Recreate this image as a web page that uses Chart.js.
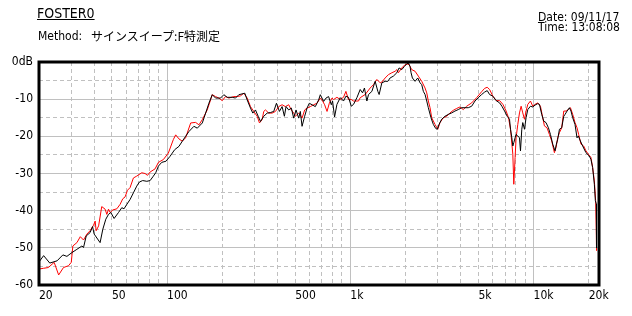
<!DOCTYPE html>
<html>
<head>
<meta charset="utf-8">
<script src="https://cdn.jsdelivr.net/npm/chart.js@4.4.1/dist/chart.umd.min.js"></script>
<style>
  html, body { margin: 0; padding: 0; background: #fff; }
  #wrap { position: relative; width: 632px; height: 316px; overflow: hidden; }
  #wrap canvas { position: absolute; left: 0; top: 0; }
  .txt {
    position: absolute; white-space: pre; color: #000;
    font-family: "Liberation Sans Narrow", "DejaVu Sans Condensed", "Noto Sans CJK JP", sans-serif;
    font-size: 12px; line-height: 12px;
  }
</style>
</head>
<body>
<div id="wrap">
  <canvas id="graf" width="632" height="316"></canvas>
  <div class="txt" style="left:37px;top:6px;font-size:14px;line-height:14px;text-decoration:underline">FOSTER0</div>
  <div class="txt" style="left:38px;top:30px">Method:</div>
  <div class="txt" style="left:91px;top:30px;font-family:'Noto Sans CJK JP',sans-serif">サインスイープ:F特測定</div>
  <div class="txt" style="left:538px;top:11px">Date: 09/11/17</div>
  <div class="txt" style="left:538px;top:21px">Time: 13:08:08</div>
</div>
<script>
// tick positions
const etiketHz = [20, 50, 100, 500, 1000, 5000, 10000, 20000];
const anaHz = [100, 1000, 10000];
const araHz = [30, 40, 50, 60, 70, 80, 90, 200, 300, 400, 500, 600, 700, 800, 900,
  2000, 3000, 4000, 5000, 6000, 7000, 8000, 9000, 20000];
const dbTicks = [-60, -50, -40, -30, -20, -10, 0];
const dbAra = [-55, -45, -35, -25, -15, -5];

// red curve
const kirmiziHz = [20, 21.2, 22.5, 24.2, 25.6, 27.2, 29, 30, 30.6, 32.2, 33.6, 35, 36.5, 38, 39.7, 40.5, 41, 42.3, 44, 45.9,
  46.9, 47.9, 48.9, 50.6, 53.2, 55.4, 57.3, 59, 60.8, 62.8, 65.5, 68.3, 72.7, 75.8, 78.2, 80.8, 86, 89.7, 95.4, 101.6,
  108.1, 111.4, 116.1, 121.1, 126.2, 134.5, 143.1, 149.2, 155.7, 165.6, 172.7, 176.4, 183.9, 191.6, 200, 208.4, 217.4, 231.4, 241.4, 251.6,
  262.3, 273.6, 285.2, 297.3, 310.2, 319.3, 330.2, 336.9, 344.2, 358.7, 374.3, 390.2, 406.6, 424.3, 442.2, 460.9, 476.7, 490.7, 501.2, 522.4,
  545.2, 563.3, 580.4, 604.9, 630.5, 657.6, 685.8, 700.4, 724, 746.3, 767.9, 794.3, 810, 845, 881, 918, 946, 977, 1012, 1041,
  1108, 1132, 1205, 1283, 1337, 1396, 1455, 1486, 1549, 1614, 1684, 1755, 1793, 1829, 1908, 1990, 2033, 2091, 2163, 2256,
  2350, 2453, 2557, 2612, 2665, 2723, 2780, 2899, 2999, 3086, 3216, 3357, 3498, 3646, 3803, 3966, 4134, 4314, 4593, 4888,
  5206, 5404, 5584, 5754, 5998, 6254, 6523, 6800, 7083, 7300, 7484, 7703, 7799, 7929, 8027, 8200, 8376, 8550, 8730, 8920,
  9100, 9297, 9615, 9896, 10186, 10540, 10900, 11220, 11460, 11840, 12200, 12560, 12990, 13260, 13540, 13840, 14240, 14610, 15040, 15500,
  15890, 16350, 16830, 17260, 17620, 18140, 18760, 19310, 19900, 20560, 21000, 21460, 21810, 22000, 22050];
const kirmiziDb = [-55.7, -55.5, -55.3, -53.9, -57.3, -55.3, -54.8, -53.9, -49.5, -48.6, -47, -47.9, -46.3, -45.4, -43.9, -42.8, -45.4, -44.1, -38.9, -39.6,
  -41, -39.6, -40.5, -39.8, -39.5, -38.3, -36.8, -36.3, -34.5, -33.8, -31.2, -30.7, -29.8, -30, -30.5, -29.6, -28.75, -27, -26.25, -24.5,
  -20.9, -19.6, -20.7, -21.3, -20.4, -16.4, -16.25, -16.9, -15.5, -12.9, -10.2, -8.8, -9.3, -9.7, -10.4, -9.3, -9.7, -9.3, -9.3, -9.1,
  -8.4, -9.7, -12, -13.3, -14.6, -16.4, -15.5, -13.3, -12.9, -13.75, -13.75, -13.3, -12, -11.5, -12, -11.5, -12.9, -13.75, -14.6, -13.75,
  -15.1, -12.9, -12.4, -12, -11.5, -11.1, -9.7, -10.2, -11.5, -13.3, -11.1, -9.7, -10.1, -9.5, -10.1, -9.5, -7.9, -10.1, -10.1, -10.5,
  -10.5, -9.6, -8.75, -7, -6.1, -4.7, -5.6, -5.4, -4.3, -3.4, -2.9, -2.5, -2.05, -2.9, -1.6, -0.7, -0.5, -0.7, -2.05, -2.5,
  -3.8, -5.2, -7, -8.3, -10.5, -12.3, -15, -16.8, -18.1, -16.3, -15, -14.6, -13.7, -13, -12.5, -12.1, -12.8, -11.9, -11, -9.6,
  -8, -7.1, -6.8, -7.4, -9.2, -10.4, -10.4, -11.4, -13.2, -15, -18.1, -24.8, -32.9, -25.7, -20.4, -16.8, -13.7, -11.9, -13.7, -15.4,
  -13.2, -11.4, -10.5, -11.9, -11.4, -11, -11.9, -15, -17.2, -17.7, -19.5, -21.25, -24.4, -23, -20.4, -19, -17.7, -13.2, -13.2, -12.8,
  -12.3, -14.1, -16.3, -17.7, -19.5, -22.1, -22.6, -23.9, -24.8, -25.7, -28.4, -32, -37.3, -46.7, -50.7];

// black curve
const siyahHz = [20, 21.2, 22.9, 25.1, 27, 28.4, 30, 32.2, 34.3, 35, 36.2, 38, 39.2, 40, 43.1, 44.6, 46.3, 47.9, 49.3, 51.4,
  54.3, 56.6, 58.2, 60.3, 62.8, 65.5, 68.3, 70.6, 73.6, 77.5, 80.8, 83.6, 86.7, 89.7, 93.5, 98.6, 103.7, 110, 116.1, 121.1,
  126.2, 131.6, 140.1, 146.2, 155.7, 162.3, 169.1, 176.4, 183.9, 195.8, 204, 212.9, 226.7, 236.3, 246.3, 265.6, 273.6, 285.2, 293.6, 303.6,
  314.1, 323.3, 336.9, 351.6, 366.4, 381.9, 395.2, 410.2, 424.3, 436.6, 445.9, 460.9, 476.7, 490.7, 505.5, 522.4, 533.4, 545.2, 563.3, 580.4,
  597.1, 618, 644.1, 671.4, 685.8, 714.9, 736.7, 760.9, 787.5, 800, 820.3, 845, 881, 918, 946, 977, 1012, 1041, 1086, 1132,
  1166, 1194, 1231, 1257, 1311, 1366, 1413, 1436, 1486, 1549, 1602, 1648, 1718, 1793, 1845, 1908, 1973, 2033, 2075, 2118,
  2145, 2181, 2256, 2333, 2401, 2453, 2503, 2557, 2612, 2665, 2755, 2838, 2925, 2984, 3048, 3152, 3286, 3423, 3573, 3724,
  3882, 4052, 4222, 4401, 4593, 4788, 4990, 5206, 5404, 5584, 5754, 5998, 6254, 6523, 6716, 6945, 7177, 7390, 7484, 7607,
  7703, 7799, 7929, 8027, 8200, 8376, 8484, 8623, 8730, 8920, 9100, 9297, 9615, 9896, 10186, 10540, 10765, 11080, 11360, 11690,
  12050, 12360, 12720, 13090, 13320, 13540, 13840, 14240, 14610, 14850, 15230, 15690, 16000, 16350, 16830, 17260, 17550, 18000, 18530, 19310,
  20150, 20560, 21000, 21460, 21730, 22000, 22050];
const siyahDb = [-53.8, -52.1, -54.1, -53.5, -51.9, -52.3, -51.4, -50.4, -49.5, -49.9, -46.8, -45.9, -44.3, -46.3, -48.6, -45, -42.3, -41, -40.5, -42.1,
  -40.5, -39.2, -39.5, -38.3, -37, -35.2, -33.4, -32.3, -31.9, -32.1, -31.9, -30.9, -29.8, -28, -27, -26.7, -25.4, -23.6, -22.7, -21.3,
  -20, -18.7, -17.3, -17.8, -16.4, -13.75, -11.1, -8.8, -9.7, -9.7, -8.8, -9.5, -9.5, -9.7, -8.8, -8.4, -10.2, -12.4, -13.75, -12.9,
  -14.6, -16, -14.6, -13.75, -13.6, -13.3, -11.1, -13.3, -12, -14.6, -12, -12.9, -12.4, -15.1, -12.9, -15.1, -13.3, -17.3, -14.6, -12.4,
  -11.1, -11.5, -12, -10.2, -8.8, -10.6, -9.7, -9.3, -11.5, -10.5, -14.8, -11.4, -9.6, -10.5, -9.2, -9.5, -11.9, -11.4, -9.6, -7.4,
  -8.3, -7, -10.5, -8.75, -7.9, -5.2, -7.9, -8.75, -5.6, -5.2, -5.2, -4.3, -3.8, -2.9, -1.6, -2.05, -1.2, -0.5, -0.27, -1.2,
  -2.9, -4.3, -5.2, -4.3, -5.6, -6.1, -7.9, -8.75, -10.5, -12.3, -15, -16.8, -17.9, -18.1, -16.8, -15.4, -14.6, -14.1, -13.7, -13.2,
  -12.8, -12.3, -12.3, -12.3, -11.9, -10.5, -9.6, -8.75, -8.1, -7.7, -8.75, -9.2, -10.4, -11, -11.9, -13.2, -14.6, -15.4, -18.1, -20.4,
  -22.6, -21.7, -20.4, -19.5, -19.9, -20.4, -23.9, -18.1, -16.3, -18.1, -15, -12.8, -11.9, -12.1, -11.6, -11.2, -11.4, -14.1, -15.9, -16.3,
  -17.7, -19.5, -22.1, -23.9, -22.1, -20.8, -18.1, -17.7, -14.6, -14.1, -13.2, -12.3, -13.2, -15, -16.8, -20.4, -19.9, -21.25, -22.6, -24.4,
  -25.3, -26.2, -28.4, -32.9, -37.3, -38.2, -50];

const yazi = '"Liberation Sans Narrow", "DejaVu Sans Condensed", sans-serif';
const gri = "#c0c0c0";
const minHz = 20;
const maxHz = 22750;

function noktalar(hz, db) {
  return hz.map((f, i) => ({ x: f, y: db[i] }));
}

function sabitTick(liste) {
  return function (scale) {
    scale.ticks = liste.map(v => ({ value: v }));
  };
}

// only grid lines, no labels
function gridEkseni(tip, konum, liste, dash) {
  const eks = {
    type: tip,
    position: konum,
    afterBuildTicks: sabitTick(liste),
    ticks: { display: false },
    grid: { color: gri, lineWidth: 1, drawTicks: false },
    border: { display: false, dash: dash }
  };
  if (tip === "logarithmic") { eks.min = minHz; eks.max = maxHz; }
  else { eks.min = -60; eks.max = 0; }
  return eks;
}

// thick black frame around the plot
const cerceve = {
  id: "cerceve",
  afterDatasetsDraw(chart) {
    const a = chart.chartArea;
    const c = chart.ctx;
    c.save();
    c.strokeStyle = "#000";
    c.lineWidth = 3;
    c.strokeRect(a.left, a.top, a.right - a.left, a.bottom - a.top);
    c.restore();
  }
};

const ctx = document.getElementById("graf").getContext("2d");
new Chart(ctx, {
  type: "line",
  data: {
    datasets: [
      { label: "siyah", data: noktalar(siyahHz, siyahDb), borderColor: "#000000", borderWidth: 1, pointRadius: 0, tension: 0 },
      { label: "kirmizi", data: noktalar(kirmiziHz, kirmiziDb), borderColor: "#ff0000", borderWidth: 1, pointRadius: 0, tension: 0 }
    ]
  },
  options: {
    responsive: false,
    animation: false,
    devicePixelRatio: 1,
    layout: { padding: { left: 0, right: 33, top: 62, bottom: 0 } },
    plugins: { legend: { display: false }, tooltip: { enabled: false } },
    scales: {
      x: {
        type: "logarithmic", min: minHz, max: maxHz, position: "bottom",
        afterBuildTicks: sabitTick(etiketHz),
        afterFit: s => { s.height = 31; },
        grid: { display: false, drawTicks: false },
        border: { display: false },
        ticks: {
          align: "start", padding: 4, maxRotation: 0, autoSkip: false, color: "#000",
          font: { family: yazi, size: 12 },
          callback: v => v >= 1000 ? (v / 1000) + "k" : String(v)
        }
      },
      xAra: gridEkseni("logarithmic", "bottom", araHz, [4, 3]),
      xAna: gridEkseni("logarithmic", "bottom", anaHz, []),
      y: {
        type: "linear", min: -60, max: 0, position: "left",
        afterBuildTicks: sabitTick(dbTicks),
        afterFit: s => { s.width = 39; },
        grid: { color: gri, lineWidth: 1, drawTicks: false },
        border: { display: false },
        ticks: {
          padding: 6, color: "#000",
          font: { family: yazi, size: 12 },
          callback: v => v === 0 ? "0dB" : String(v)
        }
      },
      yAra: gridEkseni("linear", "left", dbAra, [4, 3])
    }
  },
  plugins: [cerceve]
});
</script>
</body>
</html>
